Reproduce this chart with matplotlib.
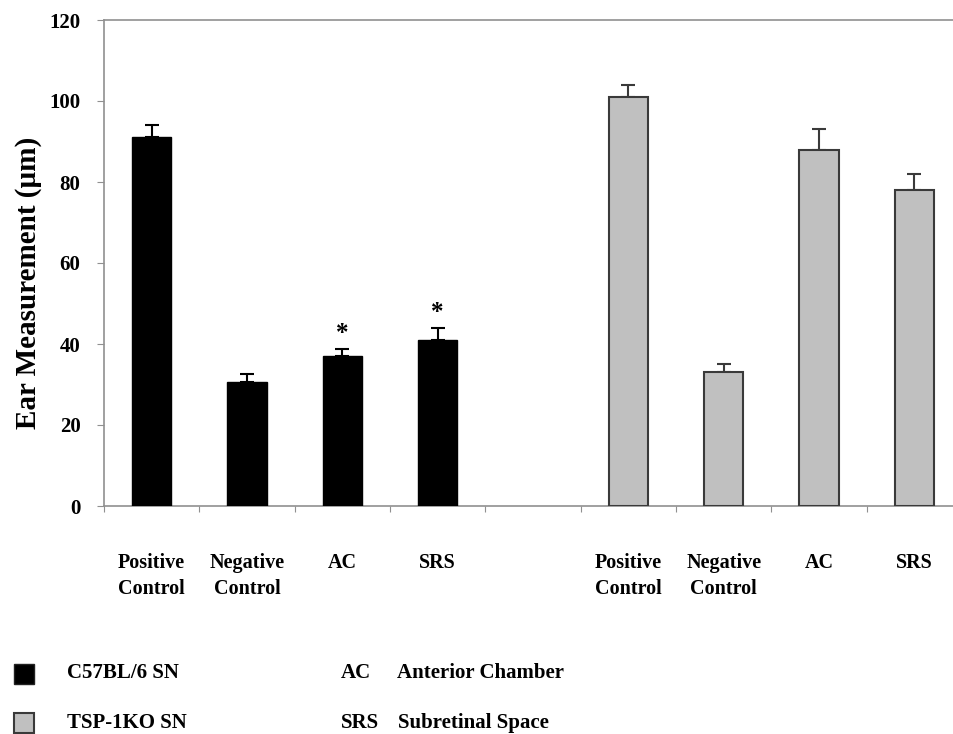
import matplotlib
matplotlib.use('Agg')
import matplotlib.pyplot as plt
from matplotlib.patches import Rectangle

plt.rcParams['font.family'] = ['Liberation Serif', 'DejaVu Serif']
plt.rcParams['font.weight'] = 'bold'

# data
labels = ['Positive\nControl', 'Negative\nControl', 'AC', 'SRS']
wt_values = [91, 30.5, 37, 41]
wt_errors = [3, 2, 1.8, 3]
ko_values = [101, 33, 88, 78]
ko_errors = [3, 2, 5, 4]
wt_signif = [False, False, True, True]
yticks = [0, 20, 40, 60, 80, 100, 120]

fig = plt.figure(figsize=(9.54, 7.34), dpi=100)
# axes runs slightly past the right edge, as in the original
ax = fig.add_axes([104 / 954, 1 - 506 / 734, 858 / 954, 486 / 734])

wt_x = [0.5, 1.5, 2.5, 3.5]
ko_x = [5.5, 6.5, 7.5, 8.5]
w = 0.41

ax.bar(wt_x, wt_values, width=w, color='black', edgecolor='black', zorder=3)
ax.errorbar(wt_x, wt_values, yerr=[[0] * 4, wt_errors], fmt='none',
            ecolor='black', elinewidth=1.5, capsize=5, capthick=1.5, zorder=2)
ax.bar(ko_x, ko_values, width=w, color='#c0c0c0', edgecolor='#3a3a3a',
       linewidth=1.5, zorder=3)
ax.errorbar(ko_x, ko_values, yerr=[[0] * 4, ko_errors], fmt='none',
            ecolor='#3a3a3a', elinewidth=1.5, capsize=5, capthick=1.5, zorder=2)

for x, v, e, s in zip(wt_x, wt_values, wt_errors, wt_signif):
    if s:
        ax.text(x, v + e + 1, '*', ha='center', va='bottom', fontsize=18)

ax.set_xlim(0, 9)
ax.set_ylim(0, 120)
ax.set_yticks(yticks)
ax.set_xticks(range(10))
ax.set_xticklabels([])
ax.set_xticks(wt_x + ko_x, minor=True)
ax.set_xticklabels(labels + labels, minor=True, fontsize=14.5, linespacing=1.4,
                   va='top')
ax.tick_params(axis='x', which='minor', length=0, pad=34)
ax.tick_params(axis='x', which='major', length=4, color='#909090', direction='out')
ax.tick_params(axis='y', length=5, color='#909090', labelsize=15, pad=12)
for sp in ax.spines.values():
    sp.set_color('#909090')
    sp.set_linewidth(1.2)
ax.set_ylabel('Ear Measurement (\u00b5m)', fontsize=21, fontweight='bold')
ax.yaxis.set_label_coords(-0.072, 0.459)

# legend / abbreviation key at bottom
fig.patches.append(Rectangle((14 / 954, 1 - 684 / 734), 20 / 954, 20 / 734,
                             transform=fig.transFigure, facecolor='black',
                             edgecolor='#222222', linewidth=1))
fig.patches.append(Rectangle((14 / 954, 1 - 733 / 734), 20 / 954, 20 / 734,
                             transform=fig.transFigure, facecolor='#c0c0c0',
                             edgecolor='#3a3a3a', linewidth=1.5))
fs = 15
fig.text(67 / 954, 1 - 673 / 734, 'C57BL/6 SN', fontsize=fs, va='center')
fig.text(67 / 954, 1 - 723 / 734, 'TSP-1KO SN', fontsize=fs, va='center')
fig.text(341 / 954, 1 - 673 / 734, 'AC', fontsize=fs, va='center')
fig.text(397 / 954, 1 - 673 / 734, 'Anterior Chamber', fontsize=fs, va='center')
fig.text(341 / 954, 1 - 723 / 734, 'SRS', fontsize=fs, va='center')
fig.text(398 / 954, 1 - 723 / 734, 'Subretinal Space', fontsize=fs, va='center')

fig.savefig('out.png', dpi=100)
